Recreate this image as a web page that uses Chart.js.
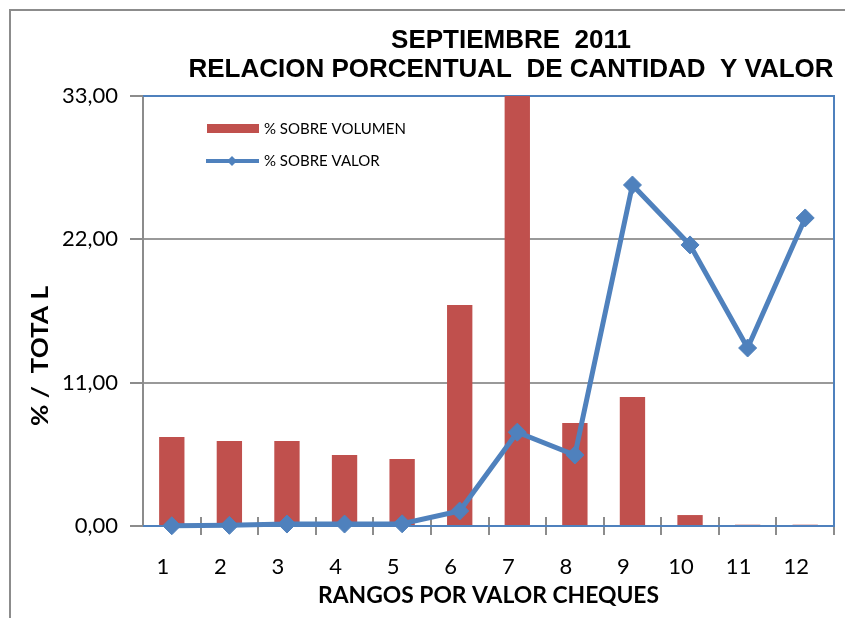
<!DOCTYPE html>
<html>
<head>
<meta charset="utf-8">
<script src="https://cdn.jsdelivr.net/npm/chart.js@4/dist/chart.umd.min.js"></script>
<style>
html,body{margin:0;padding:0;background:#fff;overflow:hidden}
#wrap{position:relative;width:845px;height:618px}
</style>
</head>
<body>
<div id="wrap"><canvas id="c" width="845" height="618"></canvas></div>
<script>
// ---- data ----
const categories = ['1','2','3','4','5','6','7','8','9','10','11','12'];
const volumen = [6.83, 6.52, 6.52, 5.45, 5.14, 16.96, 33.6, 7.9, 9.9, 0.84, 0.1, 0.1];
const valor = [0.02, 0.05, 0.15, 0.15, 0.17, 1.15, 7.2, 5.45, 26.17, 21.57, 13.66, 23.64];
const yTicks = [0, 11, 22, 33];
const titleLines = ['SEPTIEMBRE  2011', 'RELACION PORCENTUAL  DE CANTIDAD  Y VALOR'];
const xTitle = 'RANGOS POR VALOR CHEQUES';
const yTitle = '% /  TOTA L';
const seriesNames = ['% SOBRE VOLUMEN', '% SOBRE VALOR'];

const RED = '#C0504D';
const BLUE = '#4F81BD';
const GRAY = '#8C8C8C';

function fitText(ctx, text, x, y, targetW) {
  const w = ctx.measureText(text).width;
  const sx = targetW / w;
  ctx.save();
  ctx.translate(x, y);
  ctx.scale(sx, 1);
  ctx.fillText(text, 0, 0);
  ctx.restore();
}

const decor = {
  id: 'decor',
  beforeDraw(chart) {
    const ctx = chart.ctx;
    ctx.save();
    ctx.fillStyle = '#fff';
    ctx.fillRect(0, 0, chart.width, chart.height);
    ctx.strokeStyle = GRAY;
    ctx.lineWidth = 2;
    ctx.strokeRect(10, 10, chart.width + 40, chart.height + 40);
    ctx.restore();
  },
  beforeDatasetsDraw(chart) {
    const ctx = chart.ctx, a = chart.chartArea, x = chart.scales.x;
    ctx.save();
    // x tick marks crossing the axis
    ctx.strokeStyle = GRAY;
    ctx.lineWidth = 2;
    const step = x.getPixelForValue(1) - x.getPixelForValue(0);
    for (let i = 1; i <= categories.length; i++) {
      const px = Math.round(x.getPixelForValue(i - 1) + step / 2);
      ctx.beginPath();
      ctx.moveTo(px, a.bottom - 9);
      ctx.lineTo(px, a.bottom + 9);
      ctx.stroke();
    }
    // plot border (top, right, bottom)
    ctx.strokeStyle = BLUE;
    ctx.lineWidth = 2;
    ctx.beginPath();
    ctx.moveTo(a.left, a.top);
    ctx.lineTo(a.right, a.top);
    ctx.lineTo(a.right, a.bottom);
    ctx.lineTo(a.left, a.bottom);
    ctx.stroke();
    ctx.restore();
  },
  afterDraw(chart) {
    const ctx = chart.ctx, a = chart.chartArea;
    ctx.save();
    ctx.fillStyle = '#000';
    // title
    ctx.font = 'bold 26px "Liberation Sans", Arial, sans-serif';
    ctx.textAlign = 'center';
    ctx.textBaseline = 'middle';
    ctx.fillText(titleLines[0], 511, 41);
    ctx.fillText(titleLines[1], 511, 70);
    // x title
    ctx.font = 'bold 22px Lato, sans-serif';
    ctx.textAlign = 'left';
    const xw = 341;
    fitText(ctx, xTitle, (a.left + a.right) / 2 - xw / 2, 596, xw);
    // y title
    ctx.save();
    ctx.translate(41, 356);
    ctx.rotate(-Math.PI / 2);
    fitText(ctx, yTitle, -70, 0, 140);
    ctx.restore();
    // legend
    ctx.font = '15px Lato, sans-serif';
    ctx.textAlign = 'left';
    ctx.fillStyle = RED;
    ctx.fillRect(207, 124, 52, 9);
    ctx.fillStyle = '#000';
    ctx.fillText(seriesNames[0], 264, 129);
    ctx.strokeStyle = BLUE;
    ctx.lineWidth = 4;
    ctx.beginPath();
    ctx.moveTo(206, 161);
    ctx.lineTo(259, 161);
    ctx.stroke();
    ctx.fillStyle = BLUE;
    ctx.beginPath();
    ctx.moveTo(232 - 5, 161);
    ctx.lineTo(232, 156);
    ctx.lineTo(232 + 5, 161);
    ctx.lineTo(232, 166);
    ctx.closePath();
    ctx.fill();
    ctx.fillStyle = '#000';
    ctx.fillText(seriesNames[1], 264, 161);
    ctx.restore();
  }
};

new Chart(document.getElementById('c'), {
  data: {
    labels: categories,
    datasets: [
      {
        type: 'line',
        label: seriesNames[1],
        data: valor,
        borderColor: BLUE,
        backgroundColor: BLUE,
        borderWidth: 5,
        pointStyle: 'rectRot',
        pointRadius: 9,
        pointBorderWidth: 1,
        pointBackgroundColor: BLUE,
        pointBorderColor: BLUE,
        tension: 0,
        order: 0,
        clip: false
      },
      {
        type: 'bar',
        label: seriesNames[0],
        data: volumen,
        backgroundColor: RED,
        borderWidth: 0,
        categoryPercentage: 1,
        barPercentage: 0.44,
        order: 1
      }
    ]
  },
  options: {
    responsive: false,
    animation: false,
    devicePixelRatio: 1,
    layout: { padding: { left: 0, right: 11, top: 96, bottom: 0 } },
    plugins: {
      legend: { display: false },
      title: { display: false },
      tooltip: { enabled: false }
    },
    scales: {
      x: {
        type: 'category',
        offset: true,
        grid: { display: false, drawTicks: true, tickLength: 9 },
        border: { display: false },
        ticks: {
          color: '#000',
          font: { family: 'Lato', size: 22 },
          padding: 19,
          labelOffset: -9,
          maxRotation: 0
        },
        afterFit(s) { s.height = 92; }
      },
      y: {
        min: 0,
        max: 33,
        afterBuildTicks(s) { s.ticks = yTicks.map(v => ({ value: v })); },
        grid: {
          color: c => (c.tick && (c.tick.value === 11 || c.tick.value === 22)) ? '#999999' : 'rgba(0,0,0,0)',
          tickColor: GRAY,
          lineWidth: 2,
          tickLength: 13,
          drawTicks: true
        },
        border: { display: true, color: GRAY, width: 2 },
        ticks: {
          color: '#000',
          font: { family: 'Lato', size: 22 },
          padding: 12,
          callback: v => Number(v).toFixed(2).replace('.', ',')
        },
        afterFit(s) { s.width = 143; }
      }
    }
  },
  plugins: [decor]
});
</script>
</body>
</html>
